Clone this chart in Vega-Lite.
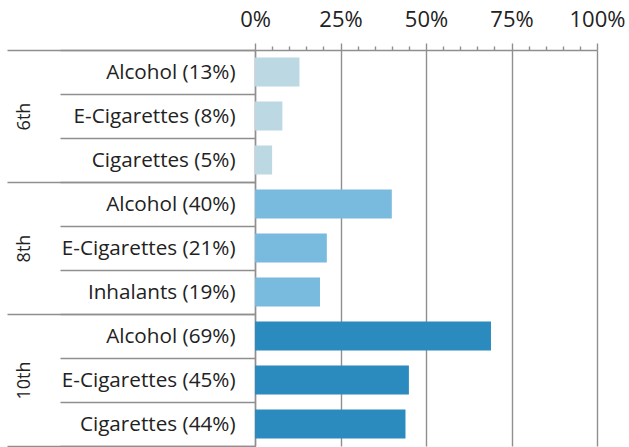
{
  "$schema": "https://vega.github.io/schema/vega-lite/v6.json",
  "width": 342,
  "height": 396,
  "autosize": {"type": "none"},
  "padding": {"left": 255, "top": 50, "right": 32, "bottom": 1},
  "background": "white",
  "config": {
    "view": {"stroke": null},
    "font": "Open Sans",
    "axis": {"labelFont": "Open Sans", "labelColor": "#222222", "domainColor": "#8f8f8f", "tickColor": "#8f8f8f", "gridColor": "#8f8f8f", "domainWidth": 1.4, "tickWidth": 1.4, "gridWidth": 1.4, "title": null}
  },
  "datasets": {
    "rows": [
      {"grade": "6th", "label": "Alcohol (13%)", "value": 13},
      {"grade": "6th", "label": "E-Cigarettes (8%)", "value": 8},
      {"grade": "6th", "label": "Cigarettes (5%)", "value": 5},
      {"grade": "8th", "label": "Alcohol (40%)", "value": 40},
      {"grade": "8th", "label": "E-Cigarettes (21%)", "value": 21},
      {"grade": "8th", "label": "Inhalants (19%)", "value": 19},
      {"grade": "10th", "label": "Alcohol (69%)", "value": 69},
      {"grade": "10th", "label": "E-Cigarettes (45%)", "value": 45},
      {"grade": "10th", "label": "Cigarettes (44%)", "value": 44}
    ],
    "grades": [
      {"grade": "6th"},
      {"grade": "8th"},
      {"grade": "10th"}
    ]
  },
  "layer": [
    {
      "data": {"name": "grades"},
      "mark": {"type": "bar", "opacity": 0},
      "encoding": {
        "y": {
          "field": "grade", "type": "nominal", "sort": null,
          "scale": {"paddingInner": 0, "paddingOuter": 0},
          "axis": {
            "orient": "left", "domain": false, "tickBand": "extent", "tickSize": 248,
            "labelAngle": -90, "labelAlign": "center", "labelBaseline": "middle",
            "labelPadding": -17, "labelFontSize": 18
          }
        }
      }
    },
    {
      "data": {"name": "rows"},
      "mark": {"type": "bar", "height": {"band": 0.66}},
      "encoding": {
        "y": {
          "field": "label", "type": "nominal", "sort": null,
          "scale": {"paddingInner": 0, "paddingOuter": 0},
          "axis": {
            "orient": "left", "domain": true, "tickBand": "extent", "tickSize": 195,
            "labelAlign": "right", "labelBaseline": "middle",
            "labelPadding": -175, "labelFontSize": 20.7
          }
        },
        "x": {
          "field": "value", "type": "quantitative",
          "scale": {"domain": [0, 100], "nice": false},
          "axis": {
            "orient": "top",
            "values": [0,5,10,15,20,25,30,35,40,45,50,55,60,65,70,75,80,85,90,95,100],
            "labelExpr": "datum.value % 25 === 0 ? datum.value + '%' : ''",
            "labelOverlap": false, "labelFlush": false,
            "labelFontSize": 22, "labelBaseline": "alphabetic", "labelPadding": 17,
            "tickSize": {"condition": {"test": "datum.value % 25 === 0", "value": 7}, "value": 4},
            "grid": true,
            "gridOpacity": {"condition": {"test": "datum.value % 25 === 0", "value": 1}, "value": 0}
          }
        },
        "color": {
          "field": "grade", "type": "nominal",
          "scale": {"domain": ["6th", "8th", "10th"], "range": ["#bbd8e3", "#79badf", "#2c8bbe"]},
          "legend": null
        }
      }
    }
  ],
  "resolve": {"scale": {"y": "independent"}, "axis": {"y": "independent"}}
}
